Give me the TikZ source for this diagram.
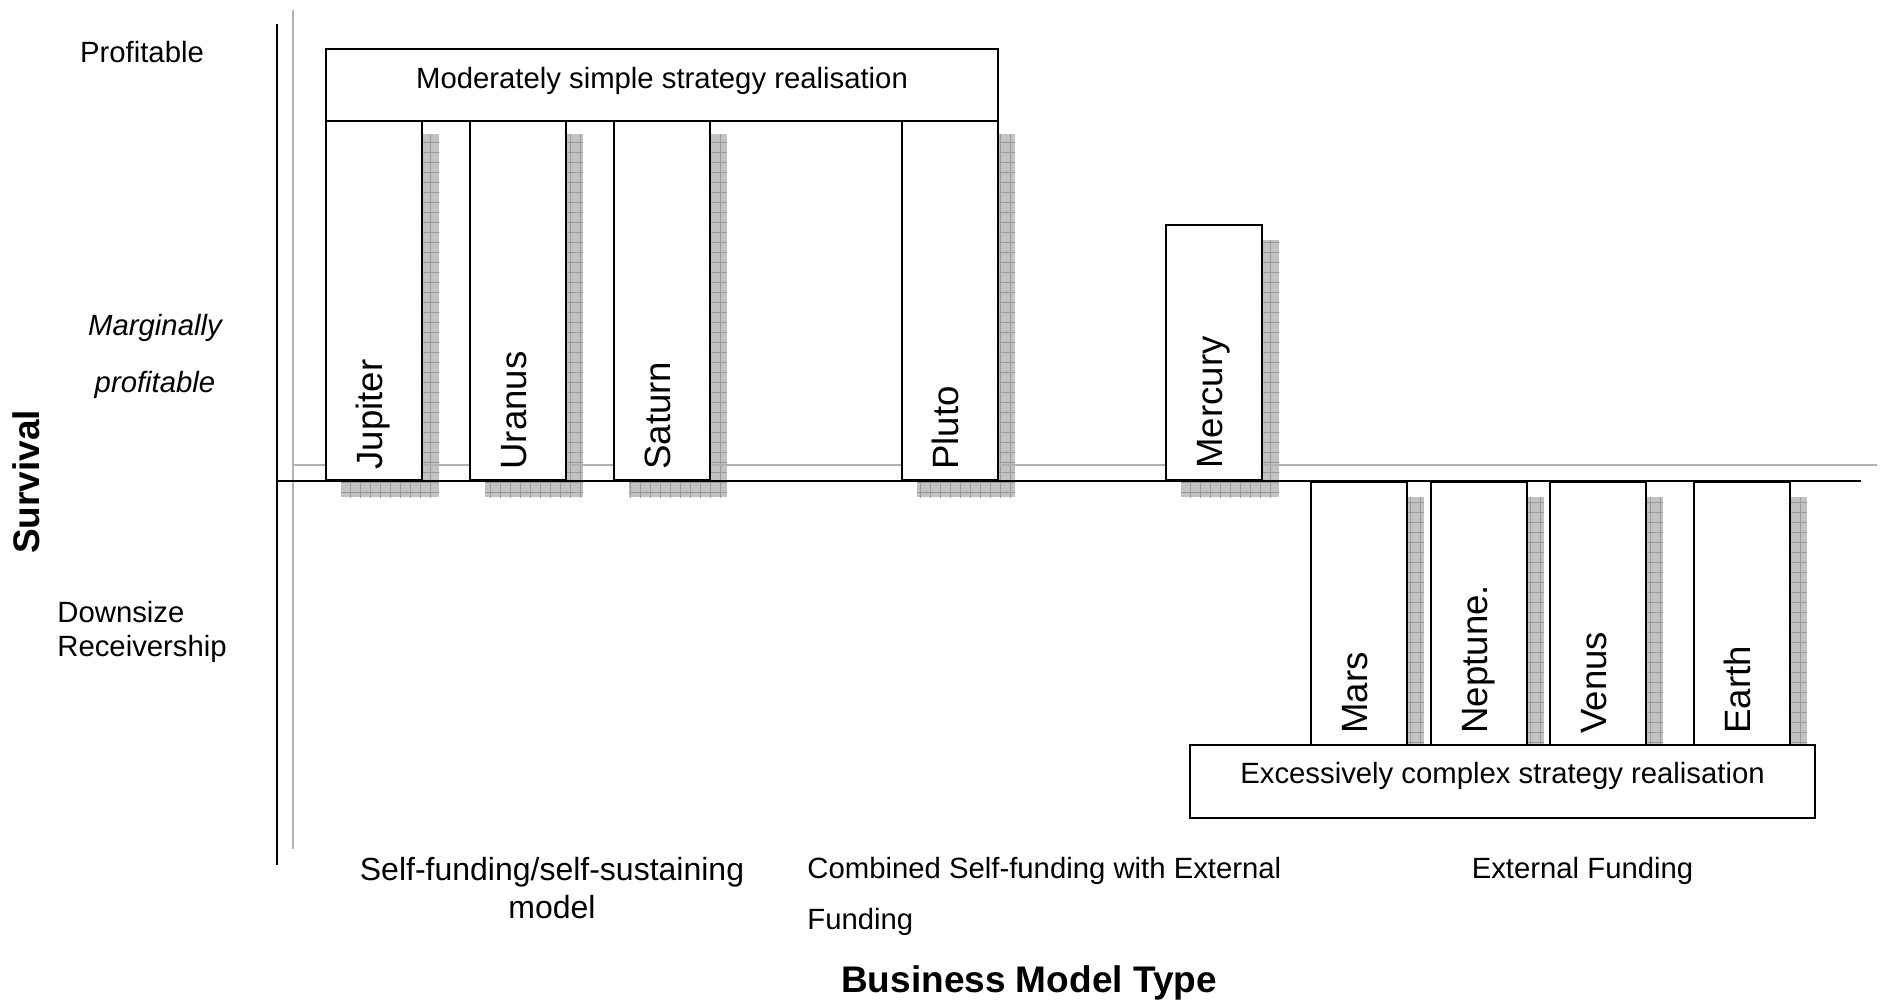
\documentclass[tikz,border=0pt]{standalone}
\usepackage{fontspec}
\setmainfont{Liberation Sans}
\usetikzlibrary{patterns,backgrounds}

\pgfdeclarepatternformonly{shadowgrid}{\pgfqpoint{-0.5pt}{-0.5pt}}{\pgfqpoint{5.5pt}{5.5pt}}{\pgfqpoint{5pt}{5pt}}{
	\pgfsetlinewidth{0.4pt}
	\pgfpathmoveto{\pgfqpoint{0pt}{0pt}}
	\pgfpathlineto{\pgfqpoint{5.1pt}{0pt}}
	\pgfpathmoveto{\pgfqpoint{0pt}{0pt}}
	\pgfpathlineto{\pgfqpoint{0pt}{5.1pt}}
	\pgfusepath{stroke}
}

\tikzset{
	planet/.style={draw=black, line width=1pt, fill=white, minimum width=48pt, inner sep=0pt},
	planetname/.style={rotate=90, anchor=base west, inner sep=0pt, font=\fontsize{18.3}{22}\selectfont},
	strategy/.style={draw=black, line width=1pt, fill=white, inner sep=0pt, font=\fontsize{14.65}{17}\selectfont},
	shadowbox/.style={fill=black!24, postaction={pattern=shadowgrid, pattern color=black!40}},
	guide/.style={black!30, line width=0.8pt},
	axis/.style={black, line width=1.2pt},
	scalelabel/.style={inner sep=0pt, font=\fontsize{14.65}{17}\selectfont},
	title/.style={inner sep=0pt, font=\bfseries\fontsize{18.5}{22}\selectfont}
}

\begin{document}
\begin{tikzpicture}[x=0.5pt, y=-0.5pt]
	\useasboundingbox (0,0) rectangle (1889,1002);
	
	\node[planet, minimum height=180.5pt, anchor=south west] (jupiter) at (325,481) {};
	\node[planet, minimum height=180.5pt, anchor=south west] (uranus)  at (469,481) {};
	\node[planet, minimum height=180.5pt, anchor=south west] (saturn)  at (613,481) {};
	\node[planet, minimum height=180.5pt, anchor=south west] (pluto)   at (901,481) {};
	\node[planet, minimum height=127.5pt, anchor=south west] (mercury) at (1165,481) {};
	\node[planet, minimum height=131.5pt, anchor=north west] (mars)    at (1310,481) {};
	\node[planet, minimum height=131.5pt, anchor=north west] (neptune) at (1430,481) {};
	\node[planet, minimum height=131.5pt, anchor=north west] (venus)   at (1549,481) {};
	\node[planet, minimum height=131.5pt, anchor=north west] (earth)   at (1693,481) {};
	
	\node[planetname] (jupitername) at ([xshift=4pt, yshift=5.5pt]jupiter.south) {Jupiter};
	\node[planetname] (uranusname)  at ([xshift=4pt, yshift=5.5pt]uranus.south)  {Uranus};
	\node[planetname] (saturnname)  at ([xshift=4pt, yshift=5.5pt]saturn.south)  {Saturn};
	\node[planetname] (plutoname)   at ([xshift=4pt, yshift=5.5pt]pluto.south)   {Pluto};
	\node[planetname] (mercuryname) at ([xshift=4pt, yshift=6pt]mercury.south)   {Mercury};
	\node[planetname] (marsname)    at ([xshift=4pt, yshift=6pt]mars.south)      {Mars};
	\node[planetname] (neptunename) at ([xshift=4pt, yshift=6pt]neptune.south)   {Neptune.};
	\node[planetname] (venusname)   at ([xshift=4pt, yshift=6pt]venus.south)     {Venus};
	\node[planetname] (earthname)   at ([xshift=4pt, yshift=6pt]earth.south)     {Earth};
	
	\node[strategy, minimum width=336pt, minimum height=36pt, text height=12pt, text depth=9pt, anchor=north west] (simple) at (325,48) {Moderately simple strategy realisation};
	\node[strategy, minimum width=312.5pt, minimum height=36.5pt, text height=10.5pt, text depth=9pt, anchor=north west] (complex) at (1189,744) {Excessively complex strategy realisation};
	
	\begin{scope}[on background layer]
		\foreach \p in {jupiter,uranus,saturn,pluto,mercury,mars,neptune,venus,earth}
			\fill[shadowbox] ([shift={(8pt,-8pt)}]\p.south west) rectangle ([shift={(8pt,-8pt)}]\p.north east);
		\draw[guide] (293,10) -- (293,849);
		\draw[guide] (293,465) -- (1877,465);
		\draw[axis] (277,24) -- (277,865);
		\draw[axis] (277,481) -- (1861,481);
	\end{scope}
	
	\node[scalelabel, anchor=base] (profitable) at (142,62) {Profitable};
	\node[scalelabel, anchor=north, align=center, font=\itshape\fontsize{14.65}{28.5}\selectfont] (marginal) at (155,314) {Marginally\\profitable};
	\node[scalelabel, anchor=north west, align=left, font=\fontsize{14.65}{17}\selectfont] (downsize) at (57,601) {Downsize\\Receivership};
	\node[title, rotate=90] (survival) at (26.5,482) {Survival};
	
	\node[scalelabel, anchor=north, align=center, font=\fontsize{16}{18.7}\selectfont] (selffunded) at (552,857) {Self-funding/self-sustaining\\model};
	\node[scalelabel, anchor=north west, align=left, font=\fontsize{14.65}{25.3}\selectfont] (combined) at (807,857) {Combined Self-funding with External\\Funding};
	\node[scalelabel, anchor=base] (external) at (1582.5,878) {External Funding};
	\node[title, anchor=base] (modeltype) at (1029,992) {Business Model Type};

\end{tikzpicture}
\end{document}
